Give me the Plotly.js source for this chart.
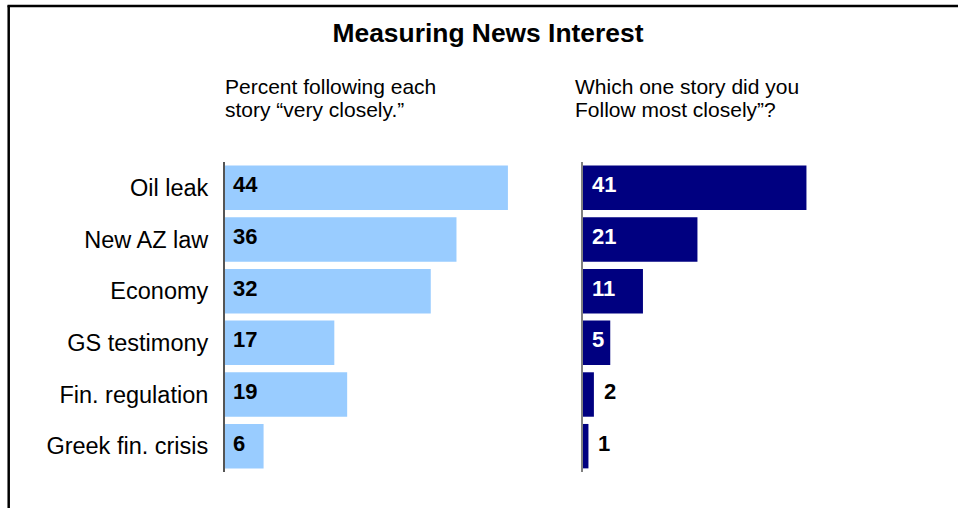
<!DOCTYPE html>
<html>
<head>
<meta charset="utf-8">
<script src="https://cdn.plot.ly/plotly-3.0.1.min.js"></script>
<style>html,body{margin:0;padding:0;background:#fff;}#chart{width:958px;height:508px;}</style>
</head>
<body>
<div id="chart"></div>
<script>
// ---- data ----
const categories = ["Oil leak", "New AZ law", "Economy", "GS testimony", "Fin. regulation", "Greek fin. crisis"];
const veryClosely = [44, 36, 32, 17, 19, 6];
const mostClosely = [41, 21, 11, 5, 2, 1];
const chartTitle = "Measuring News Interest";
const leftSubtitle = ["Percent following each", "story \u201cvery closely.\u201d"];
const rightSubtitle = ["Which one story did you", "Follow most closely\u201d?"];

const W = 958, H = 508;
const FONT = "Liberation Sans, Arial, Helvetica, sans-serif";
const px = v => v / W;
const py = v => 1 - v / H;

const traces = [
  {
    type: "bar", orientation: "h", x: veryClosely, y: categories,
    xaxis: "x", yaxis: "y", marker: { color: "#99CCFF", line: { width: 0 } },
    hoverinfo: "none"
  },
  {
    type: "bar", orientation: "h", x: mostClosely, y: categories,
    xaxis: "x2", yaxis: "y2", marker: { color: "#000080", line: { width: 0 } },
    hoverinfo: "none"
  }
];

const annotations = [];
// subtitles
leftSubtitle.forEach((t, i) => annotations.push({
  xref: "paper", yref: "paper", x: px(223), y: py(86.7 + i * 22.7),
  xanchor: "left", yanchor: "middle", showarrow: false, text: t, align: "left",
  font: { family: FONT, size: 21, color: "#000" }
}));
rightSubtitle.forEach((t, i) => annotations.push({
  xref: "paper", yref: "paper", x: px(573), y: py(86.7 + i * 22.7),
  xanchor: "left", yanchor: "middle", showarrow: false, text: t, align: "left",
  font: { family: FONT, size: 21, color: "#000" }
}));
// value labels
veryClosely.forEach((v, i) => annotations.push({
  xref: "x", yref: "y", x: 0, y: categories[i], xshift: 6, yshift: 3,
  xanchor: "left", yanchor: "middle", showarrow: false, text: String(v),
  font: { family: FONT, size: 22, color: "#000", weight: 700 }
}));
mostClosely.forEach((v, i) => {
  const inside = v >= 5;
  annotations.push({
    xref: "x2", yref: "y2", x: inside ? 0 : v, y: categories[i],
    xshift: inside ? 7 : 8, yshift: 3,
    xanchor: "left", yanchor: "middle", showarrow: false, text: String(v),
    font: { family: FONT, size: 22, color: inside ? "#fff" : "#000", weight: 700 }
  });
});

const layout = {
  width: W, height: H,
  margin: { l: 0, r: 0, t: 0, b: 0, pad: 0 },
  paper_bgcolor: "#fff", plot_bgcolor: "rgba(0,0,0,0)",
  showlegend: false,
  bargap: 0.14,
  title: {
    text: chartTitle, x: px(488), xanchor: "center", xref: "paper",
    y: py(33), yanchor: "middle", yref: "container",
    font: { family: FONT, size: 26.4, color: "#000", weight: 700 }
  },
  xaxis: {
    domain: [px(225), px(225 + 50 * 6.43)], range: [0, 50],
    showgrid: false, zeroline: false, showline: false, showticklabels: false, ticks: ""
  },
  xaxis2: {
    domain: [px(583), px(583 + 50 * 5.45)], range: [0, 50], anchor: "y2",
    showgrid: false, zeroline: false, showline: false, showticklabels: false, ticks: ""
  },
  yaxis: {
    domain: [py(472), py(162)], type: "category", categoryorder: "array", categoryarray: categories,
    range: [5.5, -0.5], anchor: "x",
    showgrid: false, zeroline: false, showline: true, linecolor: "#555", linewidth: 2,
    ticks: "", ticklabelstandoff: 10,
    tickfont: { family: FONT, size: 23.5, color: "#000" }
  },
  yaxis2: {
    domain: [py(472), py(162)], type: "category", categoryorder: "array", categoryarray: categories,
    range: [5.5, -0.5], anchor: "x2",
    showgrid: false, zeroline: false, showline: true, linecolor: "#808080", linewidth: 2,
    ticks: "", showticklabels: false
  },
  annotations: annotations,
  shapes: [
    { type: "line", xref: "paper", yref: "paper", x0: px(8.7), x1: px(8.7), y0: 0, y1: py(5.5),
      line: { color: "#000", width: 2.5 } },
    { type: "line", xref: "paper", yref: "paper", x0: px(7.5), x1: 1, y0: py(6), y1: py(6),
      line: { color: "#000", width: 2.5 } }
  ]
};

Plotly.newPlot("chart", traces, layout, { staticPlot: true, displayModeBar: false });
</script>
</body>
</html>
